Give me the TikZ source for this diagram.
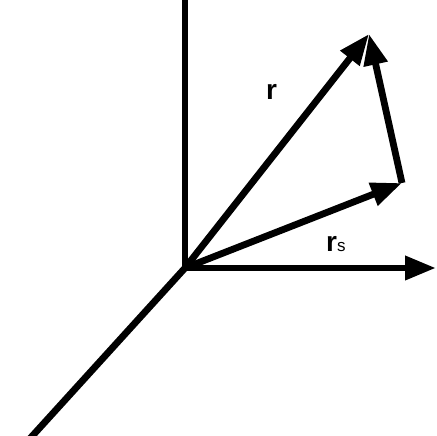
\documentclass[tikz,border=0pt]{standalone}
\usepackage{fontspec}
\setmainfont{Liberation Sans}
\usetikzlibrary{arrows.meta}
\begin{document}
\begin{tikzpicture}[x=1pt,y=1pt,
  axis/.style={line width=6.8pt},
  vec/.style={line width=6.8pt,-{Triangle[length=31pt,width=23pt]}},
  lbl/.style={inner sep=0pt,anchor=base west}]
\useasboundingbox (0,0) rectangle (436,436);
\clip (0,0) rectangle (436,436);
\coordinate (O) at (185,168);
\coordinate (T) at (185,440);
\coordinate (X) at (436,168);
\coordinate (D) at (25,-8);
\coordinate (R) at (369,402);
\coordinate (S) at (402,253);
\draw[axis] (O) -- (T);
\draw[axis] (O) -- (D);
\draw[vec] (O) -- (X);
\draw[vec] (O) -- (R);
\draw[vec] (O) -- (S);
\draw[vec] (S) -- (R);
\node[lbl] (rl) at (266,336) {\fontsize{28}{28}\selectfont\bfseries r};
\node[lbl] (rsl) at (326,184) {{\fontsize{28}{28}\selectfont\bfseries r}{\fontsize{17}{17}\selectfont s}};
\end{tikzpicture}
\end{document}
